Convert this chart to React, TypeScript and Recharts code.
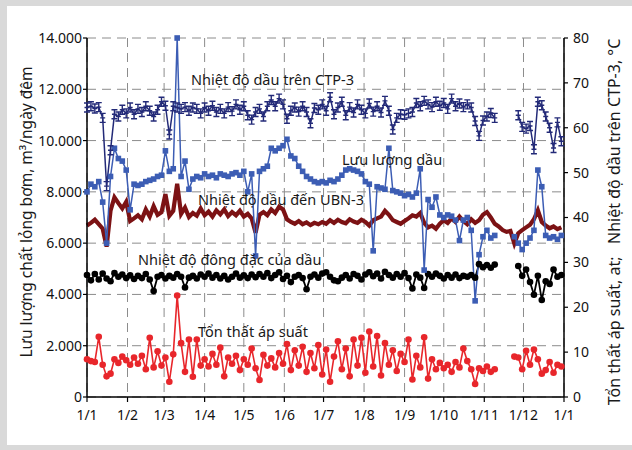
import React from 'react';
import { ComposedChart, Line, XAxis, YAxis, CartesianGrid } from 'recharts';

// ---- axis ticks / labels ----
const dayTicks = [0, 31, 59, 90, 120, 151, 181, 212, 243, 273, 304, 334, 365];
const dayTickLabels = ['1/1', '1/2', '1/3', '1/4', '1/5', '1/6', '1/7', '1/8', '1/9', '1/10', '1/11', '1/12', '1/1'];
const leftTicks = [0, 2000, 4000, 6000, 8000, 10000, 12000, 14000];
const rightTicks = [0, 10, 20, 30, 40, 50, 60, 70, 80];

// sampling grid: day of year, every 3rd day
const days = Array.from({ length: 122 }, (_, i) => i * 3);

// ---- series ----
// Lưu lượng dầu, m3/ngày đêm (left axis)
const flow: (number | null)[] = [
  8000, 8300, 8200, 8400, 7600, 6000, 8600, 9700, 9300, 9200,
  8850, 7300, 8300, 8250, 8300, 8400, 8450, 8500, 8600, 8650,
  9600, 8800, 8900, 14000, 8600, 9200, 8100, 8500, 8600, 8550,
  8700, 8600, 8650, 8550, 8700, 8650, 8600, 8700, 8750, 8650,
  8800, 8000, 8700, 5500, 8800, 8900, 9000, 9700, 9600, 9700,
  9800, 10050, 9400, 9300, 9000, 8800, 8600, 8500, 8400, 8350,
  8400, 8350, 8450, 8400, 8500, 8650, 8850, 8900, 8850, 8800,
  8700, 8400, 8300, 5700, 8200, 8150, 8100, 9700, 8050, 8000,
  7950, 7850, 7900, 7800, 7950, 8900, 4950, 7700, 7400, 7800,
  7100, 7000, 7100, 7050, 6900, 6100, 6900, 7000, 6500, 3750,
  5550, 6250, 6500, 6200, 6300, null, null, null, null, 6250,
  6000, 5750, 6000, 6200, 6500, 8850, 8200, 6300, 6200, 6250,
  6150, 6300,
];

// Nhiệt độ dầu trên CTP-3, °C (right axis)
const ctp: (number | null)[] = [
  64.5, 64.8, 64.3, 64.6, 62.2, 47.0, 55.0, 63.0, 62.5, 64.0,
  63.2, 64.5, 63.0, 64.2, 63.5, 64.8, 63.8, 62.5, 64.0, 65.8,
  64.9, 58.5, 64.8, 64.5, 64.2, 64.6, 63.8, 64.5, 64.2, 63.2,
  64.5, 63.8, 64.9, 63.5, 64.2, 63.2, 64.6, 63.7, 65.2, 64.0,
  64.8, 62.8, 61.8, 63.5, 64.2, 62.5, 64.8, 66.2, 64.8, 66.5,
  65.2, 62.0, 63.8, 64.5, 63.6, 64.8, 63.5, 61.0, 64.4, 64.0,
  65.2, 63.8, 66.8, 63.0, 64.5, 65.8, 62.8, 64.6, 63.4, 65.2,
  64.0, 63.2, 65.4, 63.6, 64.8, 63.4, 66.0, 63.8, 59.6, 62.2,
  63.0, 62.9, 63.2, 63.5, 65.5, 64.8, 66.0, 65.2, 64.6, 65.8,
  64.9, 65.5, 64.2, 66.5, 64.8, 65.4, 64.6, 65.2, 64.5, 61.5,
  58.2, 61.6, 62.5, 63.3, 62.2, null, null, null, null, null,
  62.8, 60.2, 59.8, 60.4, 55.2, 65.8, 65.0, 62.5, 60.0, 55.5,
  61.2, 57.0,
];

// Nhiệt độ dầu đến UBN-3, °C (right axis)
const ubn: (number | null)[] = [
  38.2, 38.8, 39.5, 38.5, 37.5, 33.5, 41.5, 44.5, 43.2, 42.0,
  43.5, 39.2, 39.8, 40.5, 39.6, 41.8, 40.2, 42.5, 40.6, 41.2,
  45.2, 40.4, 41.5, 47.5, 40.8, 42.2, 40.1, 41.0, 40.4, 42.0,
  40.5, 41.3, 40.2, 41.6, 40.7, 41.8, 40.3, 41.2, 40.5, 41.5,
  40.2, 40.8, 39.8, 36.6, 40.6, 41.2, 40.5, 41.8, 41.0, 42.4,
  41.8, 39.6, 39.0, 38.6, 39.2, 38.5, 38.9, 38.3, 38.8, 38.5,
  39.0, 38.6, 39.4, 38.8, 39.5, 39.0, 38.7, 39.6, 39.1, 38.8,
  39.5, 39.0, 38.2, 39.4, 39.8, 40.2, 41.5, 40.6, 39.4, 39.0,
  38.6, 39.2, 39.8, 40.5, 40.2, 41.0, 38.8, 37.8, 38.2, 37.5,
  38.6, 39.4, 38.8, 39.8, 39.0, 40.2, 39.2, 38.5, 39.6, 38.8,
  39.4, 40.6, 41.2, 40.0, 38.6, 38.0, 37.2, 36.8, 37.0, 34.2,
  36.5, 37.2, 37.8, 38.4, 39.6, 41.6, 39.0, 38.2, 37.6, 38.0,
  37.4, 37.8,
];

// Nhiệt độ đông đặc của dầu, °C (right axis)
const pour: (number | null)[] = [
  27.2, 26.0, 27.4, 26.2, 27.5, 26.4, 25.8, 27.6, 26.8, 27.3,
  26.5, 27.1, 26.3, 27.0, 26.5, 27.4, 26.2, 23.6, 26.8, 27.2,
  26.4, 27.0, 26.6, 27.4, 26.8, 24.4, 26.6, 27.0, 26.4, 27.3,
  26.8, 27.5, 26.6, 27.2, 26.4, 27.0, 26.2, 26.8, 27.5, 26.6,
  27.1, 26.5, 27.3, 26.7, 27.4, 26.8, 27.6, 26.5, 27.2, 27.8,
  26.3, 27.0, 25.6, 26.8, 27.2, 26.5, 24.0, 26.8, 27.3, 26.6,
  27.5, 27.8, 26.8, 26.0, 25.8, 26.6, 27.2, 26.4, 27.4, 27.0,
  26.2, 27.3, 27.8, 26.9, 27.5, 26.4, 27.9, 27.2, 26.6, 27.4,
  26.8, 27.6, 26.5, 24.2, 27.3, 26.6, 24.3, 27.4, 26.8, 27.5,
  27.0, 26.4, 27.2, 26.6, 27.3, 26.5, 27.0, 26.8, 27.2, 26.6,
  29.6, 28.9, 29.4, 28.8, 29.5, null, null, null, null, null,
  29.2, 27.0, 28.4, 25.6, 22.8, 27.0, 21.6, 25.8, 25.2, 28.4,
  26.8, 27.2,
];

// Tổn thất áp suất, at (right axis)
const loss: (number | null)[] = [
  8.4, 8.0, 7.8, 13.4, 7.2, 4.6, 5.2, 8.4, 7.6, 9.0,
  8.2, 7.2, 8.8, 7.4, 9.2, 6.2, 13.2, 6.6, 10.2, 7.0,
  8.8, 3.4, 9.5, 22.6, 12.0, 5.6, 12.8, 4.5, 12.8, 7.0,
  8.4, 6.8, 9.6, 7.2, 11.0, 4.6, 8.8, 7.4, 9.2, 6.0,
  8.4, 7.2, 10.8, 6.4, 3.8, 9.4, 7.0, 8.6, 6.6, 9.8,
  7.4, 11.8, 6.0, 10.4, 7.0, 11.2, 5.6, 9.8, 6.4, 11.6,
  5.0, 10.6, 3.4, 9.0, 12.4, 6.2, 10.8, 4.6, 12.8, 7.0,
  13.2, 5.4, 14.6, 6.8, 13.6, 4.8, 12.0, 7.2, 10.4, 5.8,
  9.6, 7.8, 12.8, 3.9, 9.2, 6.6, 13.3, 4.1, 8.4, 6.2,
  7.6, 6.4, 7.2, 5.6, 7.8, 6.6, 10.8, 8.0, 6.2, 2.9,
  6.4, 5.8, 6.8, 5.6, 6.2, null, null, null, null, 9.0,
  8.8, 6.2, 10.3, 7.2, 10.6, 8.4, 5.2, 6.0, 7.8, 5.4,
  7.2, 6.8,
];

const rows = days.map((d, i) => ({
  day: d,
  flow: flow[i],
  ctp: ctp[i],
  ubn: ubn[i],
  pour: pour[i],
  loss: loss[i],
}));

const NAVY = '#232a78';
const BLUE = '#3c5db4';
const DARKRED = '#7c1214';
const BLACK = '#000000';
const RED = '#e8262b';
const FONT = '"Noto Sans", "DejaVu Sans", sans-serif';

const fmtLeft = (v: number) =>
  v === 0 ? '0' : `${Math.floor(v / 1000)}.${String(v % 1000).padStart(3, '0')}`;
const fmtDay = (v: number) => dayTickLabels[dayTicks.indexOf(v)] ?? '';

const SquareDot = (p: any) => {
  const { cx, cy, index, value } = p;
  if (cx == null || cy == null || value == null) return <g key={`sq${index}`} />;
  return <rect key={`sq${index}`} x={cx - 2.8} y={cy - 2.8} width={5.6} height={5.6} fill={BLUE} />;
};

const BarDot = (p: any) => {
  const { cx, cy, index, value } = p;
  if (cx == null || cy == null || value == null) return <g key={`bd${index}`} />;
  const d = `M${cx - 3} ${cy - 4.5}H${cx + 3}M${cx} ${cy - 4.5}V${cy + 4.5}M${cx - 3} ${cy + 4.5}H${cx + 3}M${cx - 2.5} ${cy}H${cx + 2.5}`;
  return <path key={`bd${index}`} d={d} stroke={NAVY} strokeWidth={1.4} fill="none" />;
};

const CircleDot = (color: string) => (p: any) => {
  const { cx, cy, index, value } = p;
  if (cx == null || cy == null || value == null) return <g key={`c${color}${index}`} />;
  return <circle key={`c${color}${index}`} cx={cx} cy={cy} r={3.3} fill={color} />;
};

const tickStyle = { fill: '#111', fontSize: 14, fontFamily: FONT };

export default function App() {
  return (
    <div style={{ position: 'absolute', left: 0, top: 0, width: 632, height: 450, background: '#d9d9d9' }}>
      <div style={{ position: 'absolute', left: 7, top: 6, width: 625, height: 439, background: '#ffffff' }} />
      <div style={{ position: 'absolute', left: 0, top: 0 }}>
        <ComposedChart
          width={632}
          height={450}
          data={rows}
          margin={{ top: 38, right: 28, bottom: 23, left: 27 }}
        >
          <CartesianGrid yAxisId="left" stroke="#8c8c8c" strokeDasharray="9 6" strokeWidth={1} />
          <XAxis
            dataKey="day"
            type="number"
            domain={[0, 365]}
            ticks={dayTicks}
            tickFormatter={fmtDay}
            interval={0}
            height={30}
            tickSize={5}
            tickMargin={8}
            tick={tickStyle}
            axisLine={{ stroke: '#000', strokeWidth: 1.5 }}
            tickLine={{ stroke: '#000', strokeWidth: 1.2 }}
          />
          <YAxis
            yAxisId="left"
            orientation="left"
            domain={[0, 14000]}
            ticks={leftTicks}
            tickFormatter={fmtLeft}
            interval={0}
            width={60}
            tickSize={4}
            tickMargin={1}
            tick={tickStyle}
            axisLine={{ stroke: '#000', strokeWidth: 1.5 }}
            tickLine={{ stroke: '#000', strokeWidth: 1.2 }}
          />
          <YAxis
            yAxisId="right"
            orientation="right"
            domain={[0, 80]}
            ticks={rightTicks}
            interval={0}
            width={40}
            tickSize={4}
            tickMargin={5}
            tick={tickStyle}
            axisLine={{ stroke: '#000', strokeWidth: 1.5 }}
            tickLine={{ stroke: '#000', strokeWidth: 1.2 }}
          />
          <Line yAxisId="right" dataKey="loss" stroke={RED} strokeWidth={1.6} dot={CircleDot(RED)} isAnimationActive={false} connectNulls={false} />
          <Line yAxisId="right" dataKey="pour" stroke={BLACK} strokeWidth={1.8} dot={CircleDot(BLACK)} isAnimationActive={false} connectNulls={false} />
          <Line yAxisId="right" dataKey="ubn" stroke={DARKRED} strokeWidth={4.2} dot={false} isAnimationActive={false} connectNulls={false} />
          <Line yAxisId="left" dataKey="flow" stroke={BLUE} strokeWidth={1.5} dot={SquareDot} isAnimationActive={false} connectNulls={false} />
          <Line yAxisId="right" dataKey="ctp" stroke={NAVY} strokeWidth={1.5} dot={BarDot} isAnimationActive={false} connectNulls={false} />
        </ComposedChart>
      </div>
      <svg width={632} height={450} style={{ position: 'absolute', left: 0, top: 0, pointerEvents: 'none' }}>
        <g fontFamily={FONT} fill="#1a1a1a">
          <text x={191} y={85} fontSize={14.5}>Nhiệt độ dầu trên CTP-3</text>
          <text x={342} y={165} fontSize={14.5}>Lưu lượng dầu</text>
          <text x={198} y={205} fontSize={14.5}>Nhiệt độ dầu đến UBN-3</text>
          <text x={138} y={265} fontSize={14.5}>Nhiệt độ đông đặc của dầu</text>
          <text x={198} y={337} fontSize={14.5}>Tổn thất áp suất</text>
          <text
            transform="translate(32 212) rotate(-90)"
            textAnchor="middle"
            fontSize={15.5}
          >
            Lưu lượng chất lỏng bơm, m³/ngày đêm
          </text>
          <text
            transform="translate(620 222) rotate(-90)"
            textAnchor="middle"
            fontSize={16}
          >
            {'Tổn thất áp suất, at;\u00a0\u00a0\u00a0Nhiệt độ dầu trên CTP-3, °C'}
          </text>
        </g>
      </svg>
    </div>
  );
}
